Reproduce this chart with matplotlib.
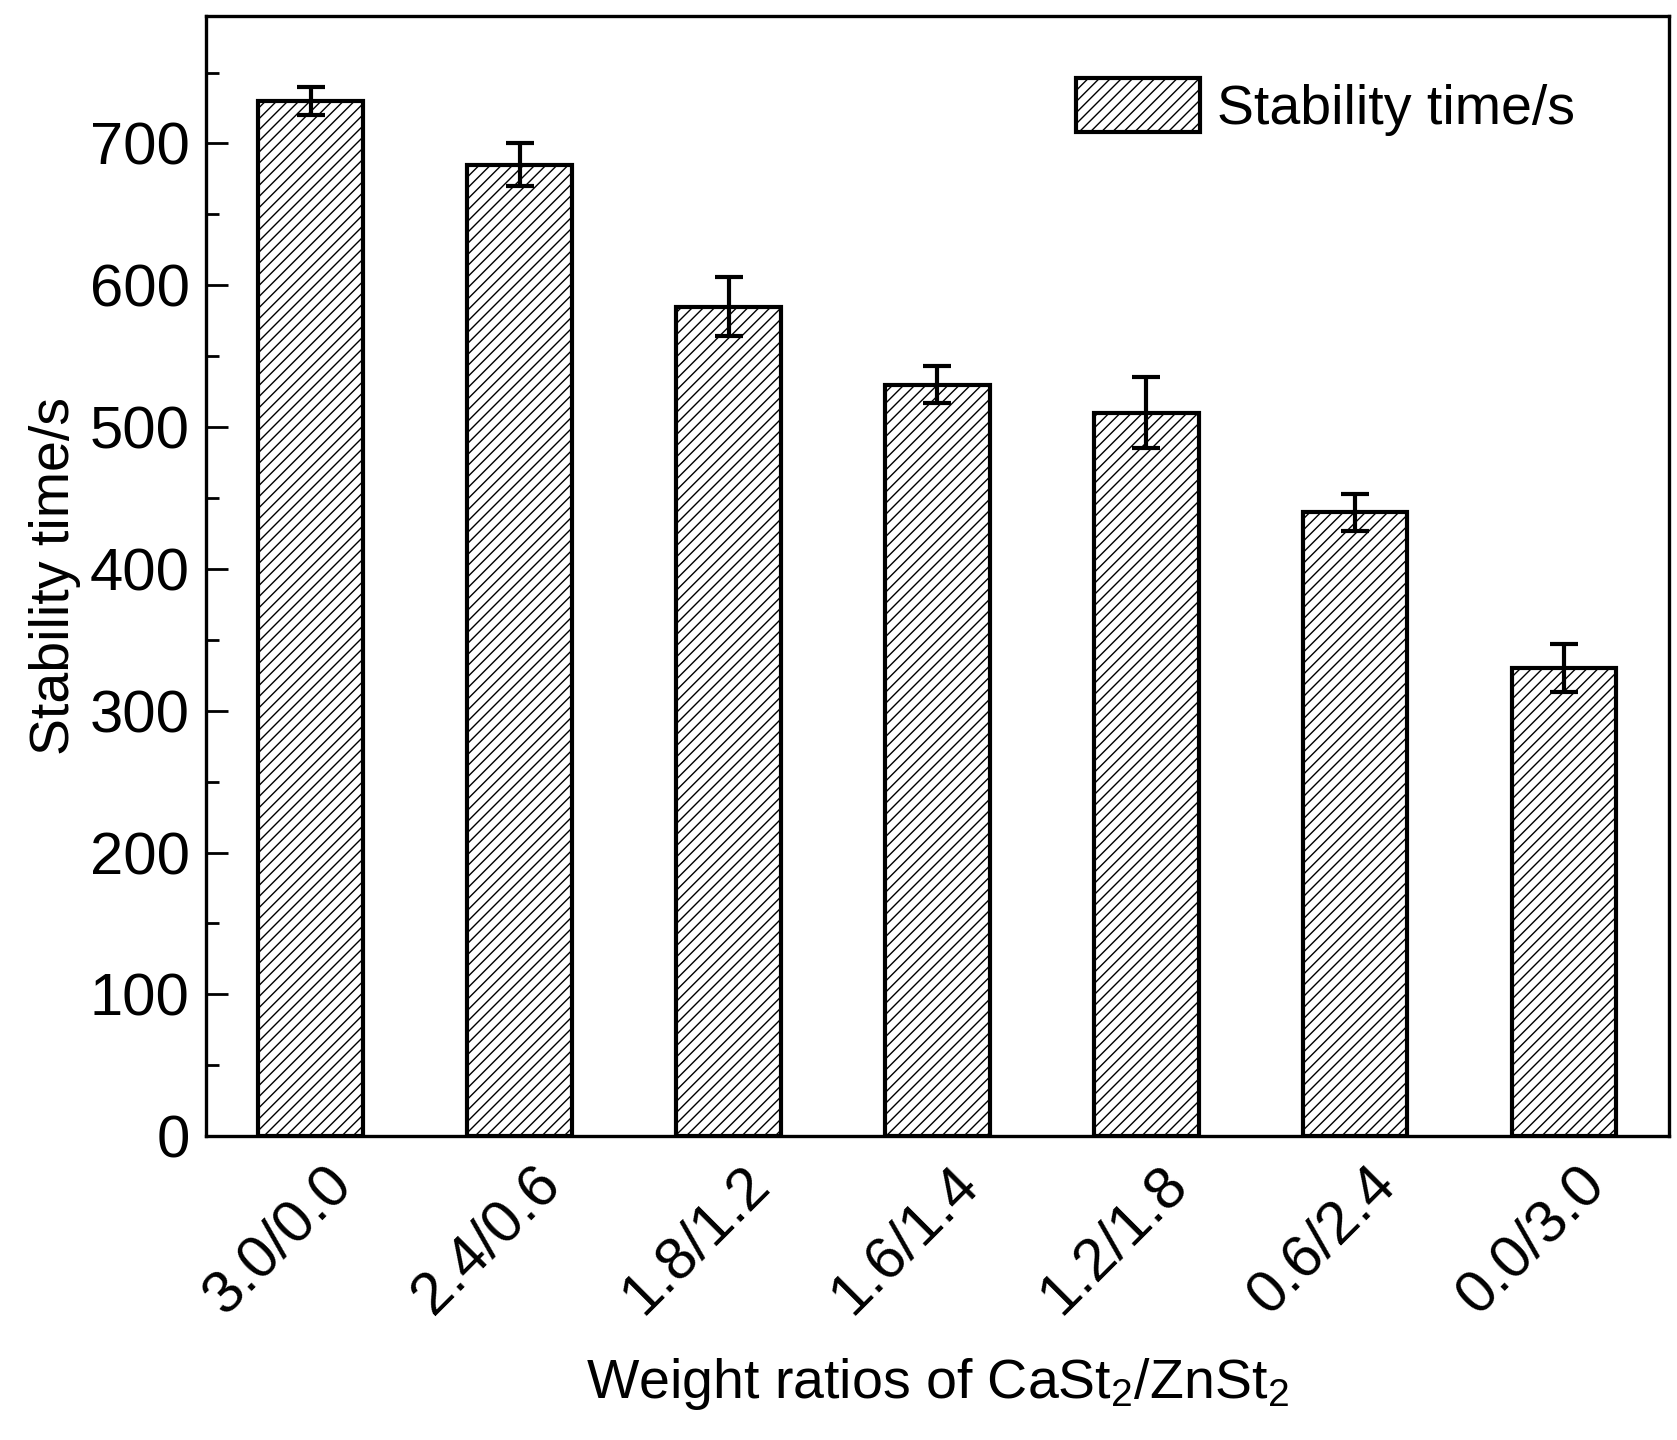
#Stability time of PVC with different CaSt2/ZnSt2 weight ratios
import numpy as np
from matplotlib import pyplot as plt

ratios = ["3.0/0.0", "2.4/0.6", "1.8/1.2", "1.6/1.4", "1.2/1.8", "0.6/2.4", "0.0/3.0"]
stability_time = [730, 685, 585, 530, 510, 440, 330]
stability_err = [10, 15, 21, 13, 25, 13, 17]

plt.rcParams['font.family'] = ['Liberation Sans', 'DejaVu Sans']
plt.rcParams['font.size'] = 40
plt.rcParams['hatch.linewidth'] = 1.0
plt.rcParams['mathtext.fontset'] = 'custom'
plt.rcParams['mathtext.rm'] = 'Liberation Sans'
plt.rcParams['mathtext.it'] = 'Liberation Sans'

fig = plt.figure(figsize=(16.77, 14.4), dpi=100)
ax = fig.add_axes([0.123, 0.211, 0.872, 0.778])

x = np.arange(len(ratios))
ax.bar(x, stability_time, 0.5, color="white", edgecolor="black", linewidth=3,
       hatch="///", label="Stability time/s", zorder=2)
ax.errorbar(x, stability_time, yerr=stability_err, fmt="none", ecolor="black",
            elinewidth=3, capsize=10, capthick=3, zorder=3)

ax.set_xlim(-0.5, 6.5)
ax.set_ylim(0, 790)
ax.set_yticks(np.arange(0, 701, 100))
ax.set_yticks(np.arange(50, 751, 100), minor=True)
ax.set_xticks(x)
ax.set_xticklabels([])
# rotated category labels, shifted like the original figure
for xi, lab in zip(x, ratios):
    ax.annotate(lab, xy=(xi, 0), xycoords=("data", "axes fraction"),
                xytext=(23, -28), textcoords="offset points", fontsize=43,
                rotation=45, ha="right", va="center", rotation_mode="anchor")

ax.tick_params(axis="y", which="major", direction="in", length=16, width=2, pad=12,
               labelsize=43)
ax.tick_params(axis="y", which="minor", direction="in", length=9, width=2)
ax.tick_params(axis="x", which="both", length=0)
for s in ax.spines.values():
    s.set_linewidth(2.4)

ax.set_ylabel("Stability time/s", labelpad=6)
ax.set_xlabel("Weight ratios of CaSt$_2$/ZnSt$_2$")
ax.xaxis.set_label_coords(0.5, -0.196)

ax.legend(loc="upper left", bbox_to_anchor=(1076 / 1677, 1 - 78 / 1440),
          bbox_transform=fig.transFigure, frameon=False, borderpad=0, borderaxespad=0,
          handlelength=2.23, handleheight=1.12, handletextpad=0.3)

plt.savefig("out.png", dpi=100)
